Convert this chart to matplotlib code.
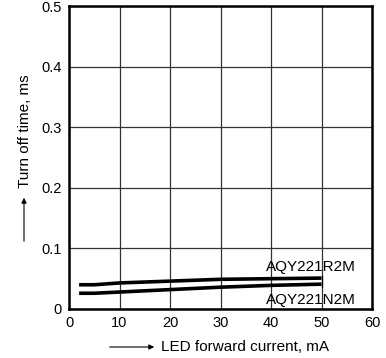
import matplotlib
matplotlib.use("Agg")
import matplotlib.pyplot as plt

plt.rcParams['font.family'] = ['Liberation Sans', 'DejaVu Sans']

x_r2m = [2, 5, 10, 20, 30, 40, 50]
y_r2m = [0.040, 0.040, 0.043, 0.046, 0.049, 0.050, 0.051]
x_n2m = [2, 5, 10, 20, 30, 40, 50]
y_n2m = [0.026, 0.026, 0.028, 0.032, 0.036, 0.039, 0.041]
xticks = [0, 10, 20, 30, 40, 50, 60]
yticks = [0, 0.1, 0.2, 0.3, 0.4, 0.5]
ytick_labels = ['0', '0.1', '0.2', '0.3', '0.4', '0.5']
label_r2m = 'AQY221R2M'
label_n2m = 'AQY221N2M'

W, H = 386, 358
fig = plt.figure(figsize=(W/100, H/100), dpi=100)
ax = fig.add_axes([69/W, 1-309/H, (372-69)/W, (309-6)/H])

ax.plot(x_r2m, y_r2m, color='black', lw=2.6, solid_capstyle='butt', zorder=3)
ax.plot(x_n2m, y_n2m, color='black', lw=2.6, solid_capstyle='butt', zorder=3)
# end marker at last x
ax.plot([x_r2m[-1], x_r2m[-1]], [y_n2m[-1] - 0.004, y_r2m[-1] + 0.003], color='black', lw=0.9, zorder=3)

ax.text(48, 0.069, label_r2m, ha='center', va='center', fontsize=11)
ax.text(48, 0.015, label_n2m, ha='center', va='center', fontsize=11)

ax.set_xlim(0, 60)
ax.set_ylim(0, 0.5)
ax.set_xticks(xticks)
ax.set_yticks(yticks)
ax.set_yticklabels(ytick_labels)
ax.tick_params(length=0, labelsize=10.5, pad=5, colors='black')
ax.grid(True, color='#333333', lw=0.9)
ax.set_axisbelow(True)
for s in ax.spines.values():
    s.set_linewidth(1.8)

# x label with arrow
fig.text(161/W, 1-347/H, 'LED forward current, mA', ha='left', va='center', fontsize=11)
fig.add_artist(matplotlib.patches.FancyArrowPatch((107/W, 1-347/H), (157/W, 1-347/H),
               transform=fig.transFigure, arrowstyle='-|>,head_length=3,head_width=1.5',
               color='black', lw=0.8, mutation_scale=1))
# y label with arrow
fig.text(25/W, 1-131/H, 'Turn off time, ms', ha='center', va='center', rotation=90, fontsize=11)
fig.add_artist(matplotlib.patches.FancyArrowPatch((24/W, 1-244/H), (24/W, 1-195/H),
               transform=fig.transFigure, arrowstyle='-|>,head_length=3,head_width=1.5',
               color='black', lw=0.8, mutation_scale=1))

fig.savefig('out.png', dpi=100)
